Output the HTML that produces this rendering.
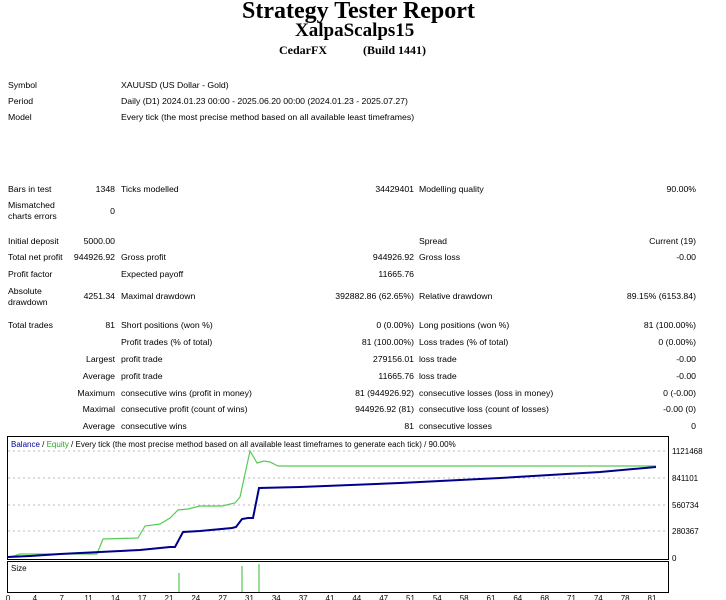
<!DOCTYPE html>
<html><head><meta charset="utf-8"><style>
body{margin:0;width:726px;height:600px;background:#fff;position:relative;overflow:hidden;font-family:"Liberation Sans",sans-serif;font-size:8.7px;color:#000}
.t{position:absolute;white-space:nowrap;line-height:11px}
.r{position:absolute;white-space:nowrap;line-height:11px;text-align:right}
.h{position:absolute;font-family:"Liberation Serif",serif;font-weight:bold;white-space:nowrap}
</style></head><body>
<div class="h" style="left:242px;top:-2px;font-size:24px">Strategy Tester Report</div>
<div class="h" style="left:295px;top:20px;font-size:19px">XalpaScalps15</div>
<div class="h" style="left:279px;top:43px;font-size:12px">CedarFX</div>
<div class="h" style="left:363px;top:43px;font-size:12px">(Build 1441)</div>

<div class="t" style="left:8px;top:80px">Symbol</div><div class="t" style="left:121px;top:80px">XAUUSD (US Dollar - Gold)</div>
<div class="t" style="left:8px;top:96px">Period</div><div class="t" style="left:121px;top:96px">Daily (D1) 2024.01.23 00:00 - 2025.06.20 00:00 (2024.01.23 - 2025.07.27)</div>
<div class="t" style="left:8px;top:112px">Model</div><div class="t" style="left:121px;top:112px">Every tick (the most precise method based on all available least timeframes)</div>

<div class="t" style="left:8px;top:184px">Bars in test</div><div class="r" style="right:611px;top:184px">1348</div>
<div class="t" style="left:121px;top:184px">Ticks modelled</div><div class="r" style="right:312px;top:184px">34429401</div>
<div class="t" style="left:419px;top:184px">Modelling quality</div><div class="r" style="right:30px;top:184px">90.00%</div>
<div class="t" style="left:8px;top:200px">Mismatched<br>charts errors</div><div class="r" style="right:611px;top:206px">0</div>

<div class="t" style="left:8px;top:236px">Initial deposit</div><div class="r" style="right:611px;top:236px">5000.00</div>
<div class="t" style="left:419px;top:236px">Spread</div><div class="r" style="right:30px;top:236px">Current (19)</div>
<div class="t" style="left:8px;top:252px">Total net profit</div><div class="r" style="right:611px;top:252px">944926.92</div>
<div class="t" style="left:121px;top:252px">Gross profit</div><div class="r" style="right:312px;top:252px">944926.92</div>
<div class="t" style="left:419px;top:252px">Gross loss</div><div class="r" style="right:30px;top:252px">-0.00</div>
<div class="t" style="left:8px;top:269px">Profit factor</div>
<div class="t" style="left:121px;top:269px">Expected payoff</div><div class="r" style="right:312px;top:269px">11665.76</div>
<div class="t" style="left:8px;top:286px">Absolute<br>drawdown</div><div class="r" style="right:611px;top:291px">4251.34</div>
<div class="t" style="left:121px;top:291px">Maximal drawdown</div><div class="r" style="right:312px;top:291px">392882.86 (62.65%)</div>
<div class="t" style="left:419px;top:291px">Relative drawdown</div><div class="r" style="right:30px;top:291px">89.15% (6153.84)</div>

<div class="t" style="left:8px;top:320px">Total trades</div><div class="r" style="right:611px;top:320px">81</div>
<div class="t" style="left:121px;top:320px">Short positions (won %)</div><div class="r" style="right:312px;top:320px">0 (0.00%)</div>
<div class="t" style="left:419px;top:320px">Long positions (won %)</div><div class="r" style="right:30px;top:320px">81 (100.00%)</div>
<div class="t" style="left:121px;top:337px">Profit trades (% of total)</div><div class="r" style="right:312px;top:337px">81 (100.00%)</div>
<div class="t" style="left:419px;top:337px">Loss trades (% of total)</div><div class="r" style="right:30px;top:337px">0 (0.00%)</div>
<div class="r" style="right:611px;top:354px">Largest</div><div class="t" style="left:121px;top:354px">profit trade</div><div class="r" style="right:312px;top:354px">279156.01</div>
<div class="t" style="left:419px;top:354px">loss trade</div><div class="r" style="right:30px;top:354px">-0.00</div>
<div class="r" style="right:611px;top:371px">Average</div><div class="t" style="left:121px;top:371px">profit trade</div><div class="r" style="right:312px;top:371px">11665.76</div>
<div class="t" style="left:419px;top:371px">loss trade</div><div class="r" style="right:30px;top:371px">-0.00</div>
<div class="r" style="right:611px;top:388px">Maximum</div><div class="t" style="left:121px;top:388px">consecutive wins (profit in money)</div><div class="r" style="right:312px;top:388px">81 (944926.92)</div>
<div class="t" style="left:419px;top:388px">consecutive losses (loss in money)</div><div class="r" style="right:30px;top:388px">0 (-0.00)</div>
<div class="r" style="right:611px;top:404px">Maximal</div><div class="t" style="left:121px;top:404px">consecutive profit (count of wins)</div><div class="r" style="right:312px;top:404px">944926.92 (81)</div>
<div class="t" style="left:419px;top:404px">consecutive loss (count of losses)</div><div class="r" style="right:30px;top:404px">-0.00 (0)</div>
<div class="r" style="right:611px;top:421px">Average</div><div class="t" style="left:121px;top:421px">consecutive wins</div><div class="r" style="right:312px;top:421px">81</div>
<div class="t" style="left:419px;top:421px">consecutive losses</div><div class="r" style="right:30px;top:421px">0</div>

<svg style="position:absolute;left:0;top:0" width="726" height="600" font-family="Liberation Sans,sans-serif" font-size="8">
<rect x="7.5" y="436.5" width="661" height="123" fill="none" stroke="#000"/>
<rect x="7.5" y="561.5" width="661" height="31" fill="none" stroke="#000"/>
<g stroke="#bbb" stroke-dasharray="2,3">
<line x1="8" y1="451" x2="668" y2="451"/><line x1="8" y1="478" x2="668" y2="478"/><line x1="8" y1="505" x2="668" y2="505"/><line x1="8" y1="531" x2="668" y2="531"/>
</g>
<g fill="#000">
<text x="672" y="454">1121468</text><text x="672" y="481">841101</text><text x="672" y="508">560734</text><text x="672" y="534">280367</text><text x="672" y="561">0</text>
</g>
<text x="11" y="447" fill="#000"><tspan fill="#0000a0">Balance</tspan> / <tspan fill="#2a2">Equity</tspan> / Every tick (the most precise method based on all available least timeframes to generate each tick) / 90.00%</text>
<text x="11" y="571">Size</text>
<polyline fill="none" stroke="#5c5" stroke-width="1.2" points="8,557 14,556 20,554 97,554 103,539 138,538 145,526 160,524 170,518 178,510 188,509 200,506 222,506 235,503 240,497 250,451 257,463 264,461 270,462 278,466 656,466"/>
<polyline fill="none" stroke="#00008b" stroke-width="2" points="8,557 30,556 60,554 100,552 140,550 170,547 175,547 183,532 200,531 232,528 236,527 242,519 248,518 253,518 259,488 300,487 400,483 500,478 600,472 656,467"/>
<g stroke="#3b3" stroke-width="1">
<line x1="179" y1="573" x2="179" y2="592"/><line x1="242" y1="566" x2="242" y2="592"/><line x1="259" y1="564" x2="259" y2="592"/>
</g>
<g text-anchor="middle" fill="#000">
<text x="8" y="601">0</text><text x="34.8" y="601">4</text><text x="61.7" y="601">7</text><text x="88.5" y="601">11</text><text x="115.3" y="601">14</text><text x="142.2" y="601">17</text><text x="169" y="601">21</text><text x="195.8" y="601">24</text><text x="222.7" y="601">27</text><text x="249.5" y="601">31</text><text x="276.3" y="601">34</text><text x="303.2" y="601">37</text><text x="330" y="601">41</text><text x="356.8" y="601">44</text><text x="383.7" y="601">47</text><text x="410.5" y="601">51</text><text x="437.3" y="601">54</text><text x="464.2" y="601">58</text><text x="491" y="601">61</text><text x="517.8" y="601">64</text><text x="544.7" y="601">68</text><text x="571.5" y="601">71</text><text x="598.3" y="601">74</text><text x="625.2" y="601">78</text><text x="652" y="601">81</text>
</g>
</svg>
</body></html>
